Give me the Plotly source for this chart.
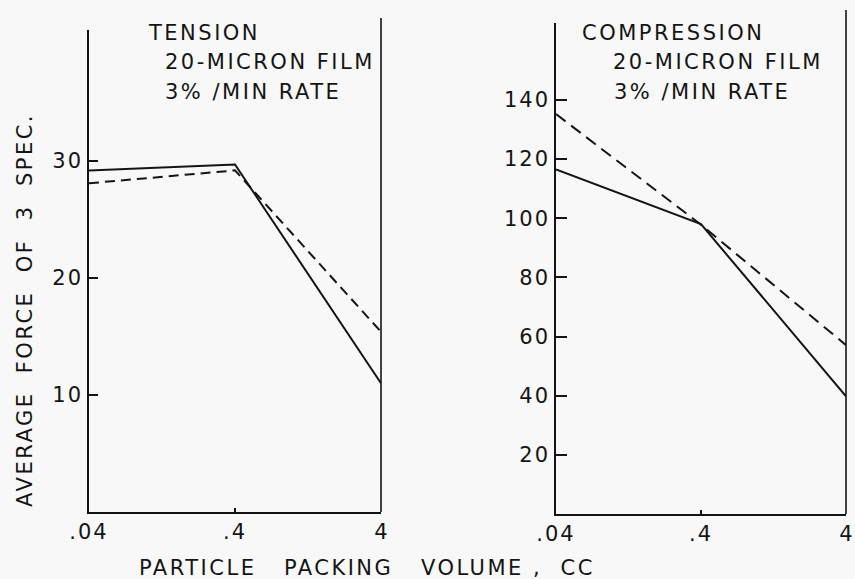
import plotly.graph_objects as go

W, H = 855, 579

# ---- data ----
volume = [0.04, 0.4, 4]
x_tick_vals = [0.04, 0.4, 4]
x_tick_text = [".04", ".4", "4"]

tension_solid = [29.2, 29.7, 11.0]
tension_dashed = [28.1, 29.2, 15.4]
tension_ticks = [10, 20, 30]

compression_solid = [116.5, 98.0, 39.8]
compression_dashed = [135.2, 97.8, 57.1]
compression_ticks = [20, 40, 60, 80, 100, 120, 140]

FONT = "DejaVu Sans"
INK = "#141414"
BG = "#f8f8f8"


def px(x):
    return x / W


def py(y):
    return 1 - y / H


def sp(text, ls=2.5):
    return f'<span style="letter-spacing:{ls}px">{text}</span>'


fig = go.Figure()

fig.add_trace(go.Scatter(x=volume, y=tension_solid, mode="lines",
                         line=dict(color=INK, width=2), xaxis="x", yaxis="y",
                         showlegend=False))
fig.add_trace(go.Scatter(x=volume, y=tension_dashed, mode="lines",
                         line=dict(color=INK, width=2, dash="10px,6px"),
                         xaxis="x", yaxis="y", showlegend=False))
fig.add_trace(go.Scatter(x=volume, y=compression_solid, mode="lines",
                         line=dict(color=INK, width=2), xaxis="x2", yaxis="y2",
                         showlegend=False))
fig.add_trace(go.Scatter(x=volume, y=compression_dashed, mode="lines",
                         line=dict(color=INK, width=2, dash="12px,7px"),
                         xaxis="x2", yaxis="y2", showlegend=False))

xcommon = dict(type="log", range=[-1.39794, 0.60206], tickvals=x_tick_vals,
               ticktext=[sp(t, 2) for t in x_tick_text[:-1]] + [x_tick_text[-1]],
               showgrid=False,
               zeroline=False, showline=True, linecolor=INK, linewidth=1.6,
               ticks="inside", ticklen=4, tickcolor=INK, tickwidth=1.5,
               automargin=False, ticklabeloverflow="allow",
               tickfont=dict(family=FONT, size=21, color=INK))

ycommon = dict(showgrid=False, zeroline=False, showline=True, linecolor=INK,
               linewidth=1.6, ticks="inside", tickcolor=INK, tickwidth=1.5,
               automargin=False,
               tickfont=dict(family=FONT, size=21, color=INK))

fig.update_layout(
    template=None,
    width=W, height=H,
    margin=dict(l=0, r=0, t=0, b=0, autoexpand=False),
    paper_bgcolor=BG, plot_bgcolor=BG,
    xaxis=dict(domain=[px(89), px(381)], anchor="y", **xcommon),
    yaxis=dict(domain=[py(512), py(30)], anchor="x", range=[0, 41.2],
               tickvals=tension_ticks,
               ticktext=[sp(str(v), 2) for v in tension_ticks],
               ticklen=9, **ycommon),
    xaxis2=dict(domain=[px(556), px(846)], anchor="y2", **xcommon),
    yaxis2=dict(domain=[py(514), py(23)], anchor="x2", range=[0, 166],
                tickvals=compression_ticks,
                ticktext=[sp(str(v), 2) for v in compression_ticks],
                ticklen=11, **ycommon),
)

# right-hand vertical boundary lines
fig.add_shape(type="line", xref="paper", yref="paper",
              x0=px(381), x1=px(381), y0=py(512), y1=py(18),
              line=dict(color=INK, width=1.6))
fig.add_shape(type="line", xref="paper", yref="paper",
              x0=px(846), x1=px(846), y0=py(514), y1=py(10),
              line=dict(color=INK, width=1.6))

ann_font = dict(family=FONT, size=21, color=INK)


def label(text, x, y, **kw):
    fig.add_annotation(text=text, x=px(x), y=py(y), xref="paper", yref="paper",
                       showarrow=False, font=ann_font, **kw)


label(sp("TENSION"), 146, 33, xanchor="left", yanchor="middle")
label(sp("20-MICRON FILM"), 163, 62, xanchor="left", yanchor="middle")
label(sp("3% /MIN RATE"), 163, 92, xanchor="left", yanchor="middle")

label(sp("COMPRESSION"), 580, 33, xanchor="left", yanchor="middle")
label(sp("20-MICRON FILM"), 611, 62, xanchor="left", yanchor="middle")
label(sp("3% /MIN RATE"), 612, 92, xanchor="left", yanchor="middle")

label(sp("AVERAGE&nbsp;&nbsp;FORCE&nbsp;&nbsp;OF&nbsp;&nbsp;3&nbsp;&nbsp;SPEC."),
      25, 310, xanchor="center", yanchor="middle", textangle=-90)
label(sp("PARTICLE&nbsp;&nbsp;&nbsp;PACKING&nbsp;&nbsp;&nbsp;VOLUME&nbsp;,&nbsp;&nbsp;CC"),
      367, 568, xanchor="center", yanchor="middle")

fig.write_html("out.html")
